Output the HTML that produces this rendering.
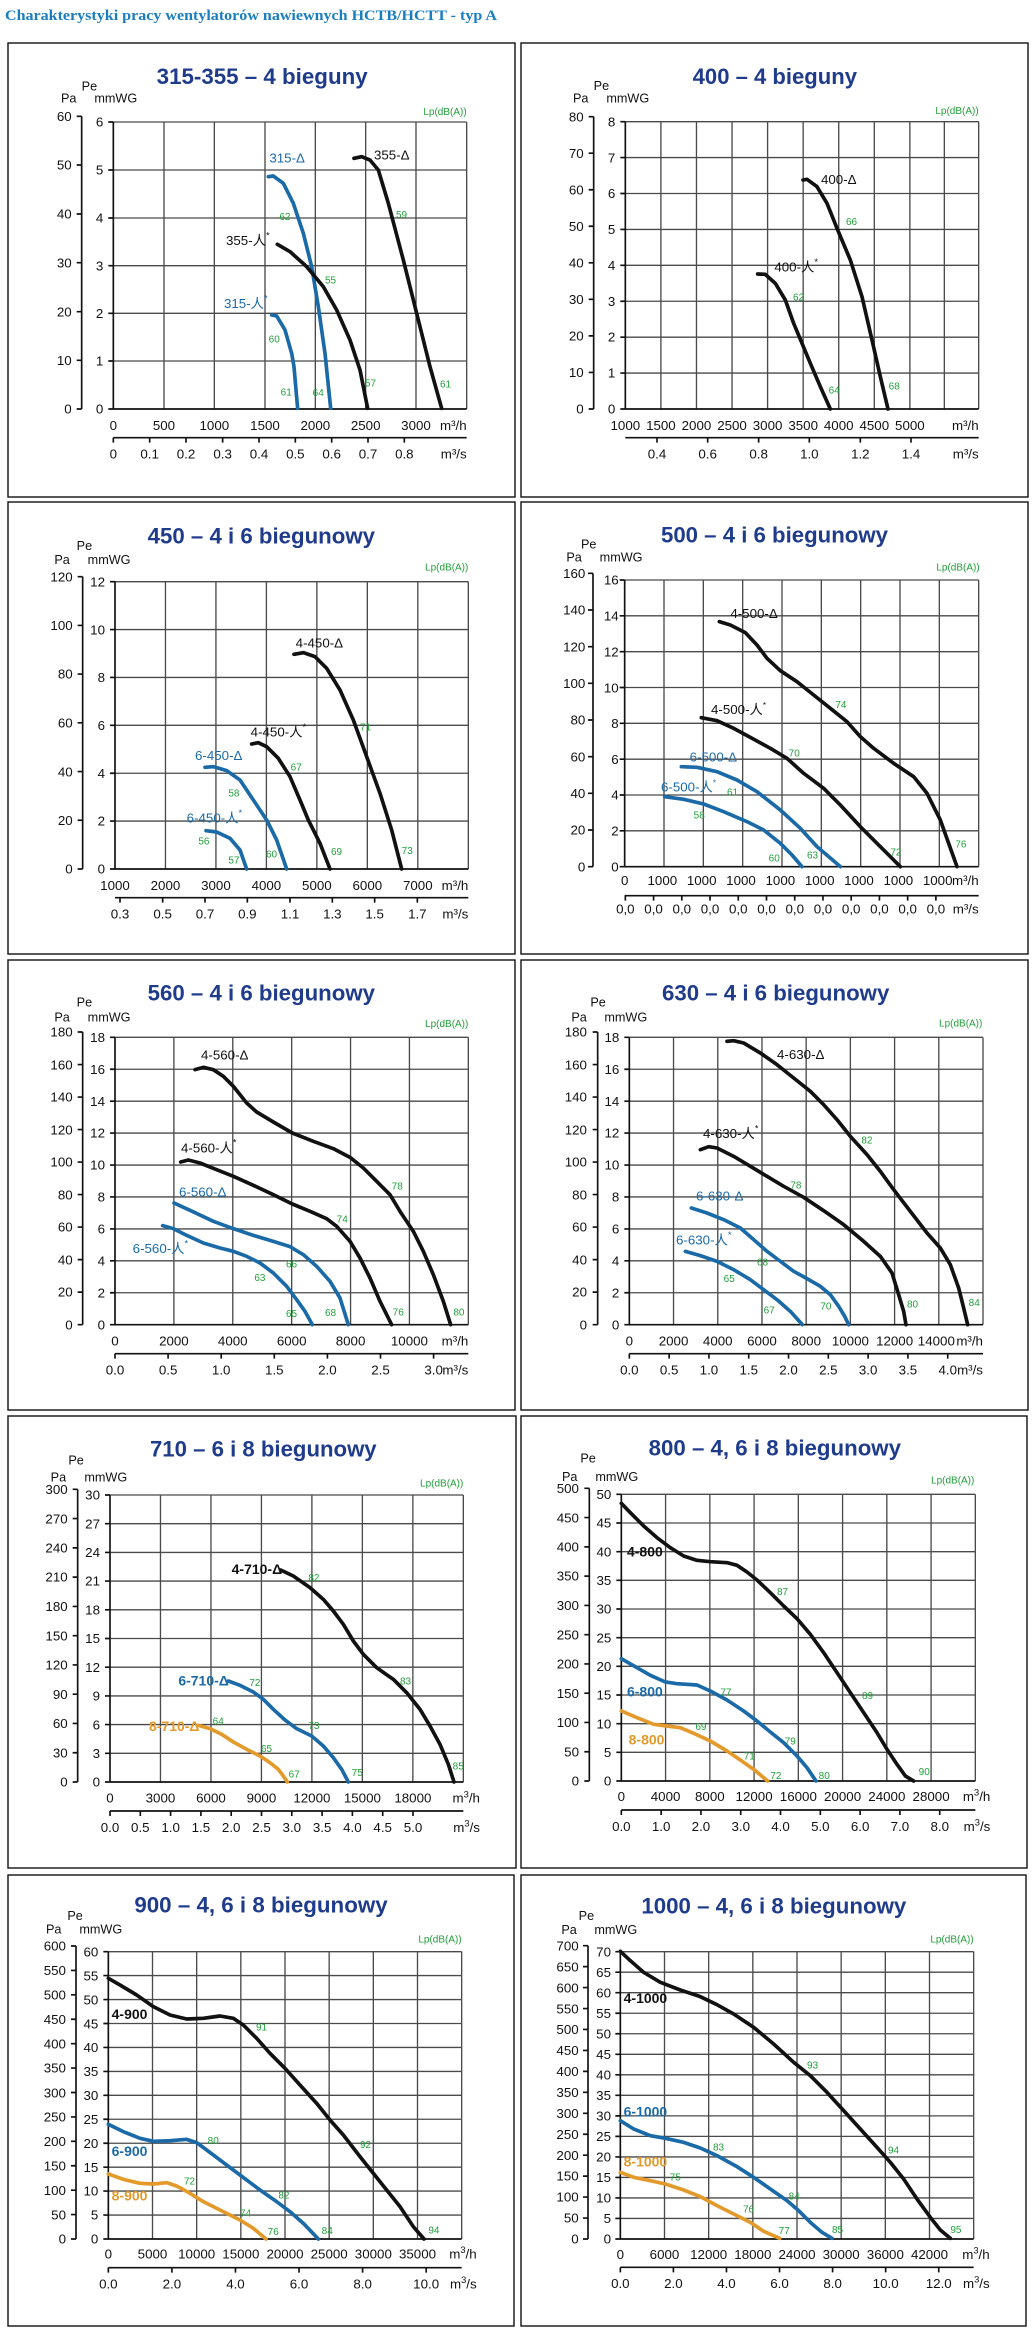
<!DOCTYPE html>
<html><head><meta charset="utf-8"><style>
html,body{margin:0;padding:0;background:#fff;}
svg{display:block;font-family:"Liberation Sans","Noto Sans CJK SC",sans-serif;}
.g{stroke:#4a4a4a;stroke-width:4;fill:none}
.ax{stroke:#111;stroke-width:5;fill:none}
.tl{font-size:40px;text-anchor:end;fill:#111}
.tc{font-size:40px;text-anchor:middle;fill:#111}
.te{font-size:40px;text-anchor:end;fill:#111}
.un{font-size:40px;fill:#111}
.gr{font-size:30px;fill:#22a03a}
.lp{font-size:30px;fill:#22a03a;text-anchor:end}
.hd{font-size:38px;fill:#111}
.ti{font-size:66px;font-weight:bold;fill:#1f3b8c}
.cb{stroke:#111;stroke-width:11;fill:none;stroke-linejoin:round;stroke-linecap:round}
.cu{stroke:#1b6aa8;stroke-width:11;fill:none;stroke-linejoin:round;stroke-linecap:round}
.co{stroke:#e39a2a;stroke-width:11;fill:none;stroke-linejoin:round;stroke-linecap:round}
.lb{font-size:40px;fill:#111}
.lu{font-size:40px;fill:#1b6aa8}
.bb{font-size:42px;font-weight:bold;fill:#111}
.bu{font-size:42px;font-weight:bold;fill:#1b6aa8}
.bo{font-size:42px;font-weight:bold;fill:#e39a2a}
.box{fill:none;stroke:#111;stroke-width:1.4}
</style></head><body>
<svg width="1034" height="2334" viewBox="0 0 1034 2334" xmlns="http://www.w3.org/2000/svg">
<rect width="1034" height="2334" fill="#fff"/>
<text x="5" y="20" font-family="Liberation Serif,serif" font-weight="bold" font-size="15" fill="#1a7dbf" textLength="492" lengthAdjust="spacingAndGlyphs">Charakterystyki pracy wentylatorów nawiewnych HCTB/HCTT - typ A</text>

<rect class="box" x="8" y="43" width="507" height="454"/>
<rect class="box" x="521" y="43" width="507" height="454"/>
<rect class="box" x="8" y="502" width="507" height="452"/>
<rect class="box" x="521" y="502" width="507" height="452"/>
<rect class="box" x="8" y="960" width="507" height="450"/>
<rect class="box" x="521" y="960" width="507" height="450"/>
<rect class="box" x="8" y="1416" width="508" height="452"/>
<rect class="box" x="521" y="1416" width="506" height="452"/>
<rect class="box" x="8" y="1875" width="506" height="451"/>
<rect class="box" x="521" y="1875" width="505" height="451"/>

<!-- P1 315-355 -->
<g transform="translate(0,0) scale(0.33333)">
<text class="ti" x="470" y="252" textLength="633" lengthAdjust="spacingAndGlyphs">315-355 – 4 bieguny</text>
<text class="hd" x="245" y="272">Pe</text><text class="hd" x="183" y="308">Pa</text><text class="hd" x="283" y="308">mmWG</text>
<text class="lp" x="1400" y="345">Lp(dB(A))</text>
<path class="g" d="M340 366H1400M340 510H1400M340 654H1400M340 797H1400M340 940H1400M340 1083H1400M492 366V1227M643 366V1227M795 366V1227M946 366V1227M1097 366V1227M1248 366V1227M1400 366V1227"/>
<path class="ax" d="M340 366V1227H1400M325 366H340M325 510H340M325 654H340M325 797H340M325 940H340M325 1083H340M325 1227H340M245 349V1227M230 349H245M230 495H245M230 642H245M230 788H245M230 935H245M230 1081H245M230 1227H245M340 1313H1400M340 1313V1328M449 1313V1328M558 1313V1328M668 1313V1328M777 1313V1328M886 1313V1328M995 1313V1328M1104 1313V1328M1213 1313V1328"/>
<text class="tl" x="310" y="380">6</text><text class="tl" x="310" y="524">5</text><text class="tl" x="310" y="668">4</text><text class="tl" x="310" y="811">3</text><text class="tl" x="310" y="954">2</text><text class="tl" x="310" y="1097">1</text><text class="tl" x="310" y="1241">0</text>
<text class="tl" x="215" y="363">60</text><text class="tl" x="215" y="509">50</text><text class="tl" x="215" y="656">40</text><text class="tl" x="215" y="802">30</text><text class="tl" x="215" y="949">20</text><text class="tl" x="215" y="1095">10</text><text class="tl" x="215" y="1241">0</text>
<text class="tc" x="340" y="1290">0</text><text class="tc" x="492" y="1290">500</text><text class="tc" x="643" y="1290">1000</text><text class="tc" x="795" y="1290">1500</text><text class="tc" x="946" y="1290">2000</text><text class="tc" x="1097" y="1290">2500</text><text class="tc" x="1248" y="1290">3000</text><text class="te" x="1400" y="1290">m³/h</text>
<text class="tc" x="340" y="1375">0</text><text class="tc" x="449" y="1375">0.1</text><text class="tc" x="558" y="1375">0.2</text><text class="tc" x="668" y="1375">0.3</text><text class="tc" x="777" y="1375">0.4</text><text class="tc" x="886" y="1375">0.5</text><text class="tc" x="995" y="1375">0.6</text><text class="tc" x="1104" y="1375">0.7</text><text class="tc" x="1213" y="1375">0.8</text><text class="te" x="1400" y="1375">m³/s</text>
<polyline class="cu" points="805,530 820,528 850,550 880,610 910,700 935,800 955,920 975,1060 992,1225"/>
<polyline class="cu" points="815,945 830,948 855,990 875,1060 882,1100 888,1170 893,1225"/>
<polyline class="cb" points="832,733 870,755 920,800 970,860 1010,930 1050,1020 1080,1110 1103,1225"/>
<polyline class="cb" points="1062,475 1085,470 1110,480 1135,510 1165,610 1210,780 1250,940 1290,1100 1325,1225"/>
<text class="lu" x="808" y="487">315-Δ</text><text class="lb" x="1122" y="478">355-Δ</text><text class="lb" x="678" y="735">355-人<tspan font-size="28" dy="-20">*</tspan></text><text class="lu" x="672" y="924">315-人<tspan font-size="28" dy="-20">*</tspan></text>
<text class="gr" x="838" y="660">62</text><text class="gr" x="975" y="850">55</text><text class="gr" x="1188" y="654">59</text><text class="gr" x="806" y="1027">60</text><text class="gr" x="842" y="1187">61</text><text class="gr" x="938" y="1188">64</text><text class="gr" x="1095" y="1160">57</text><text class="gr" x="1320" y="1162">61</text>
</g>

<!-- P2 400 -->
<g transform="translate(517,40) scale(0.33333)">
<text class="ti" x="527" y="132" textLength="493" lengthAdjust="spacingAndGlyphs">400 – 4 bieguny</text>
<text class="hd" x="230" y="150">Pe</text><text class="hd" x="168" y="188">Pa</text><text class="hd" x="268" y="188">mmWG</text>
<text class="lp" x="1385" y="222">Lp(dB(A))</text>
<path class="g" d="M325 245H1385M325 352.75H1385M325 460.5H1385M325 568.25H1385M325 676H1385M325 783.75H1385M325 891.5H1385M325 999.25H1385M431.7 245V1107M538.4 245V1107M645.1 245V1107M751.8 245V1107M858.5 245V1107M965.2 245V1107M1071.9 245V1107M1178.6 245V1107M1282 245V1107M1385 245V1107"/>
<path class="ax" d="M325 245V1107H1385M310 245H325M310 352.75H325M310 460.5H325M310 568.25H325M310 676H325M310 783.75H325M310 891.5H325M310 999.25H325M310 1107H325M230 230V1107M215 230H230M215 339.6H230M215 449.2H230M215 558.8H230M215 668.4H230M215 778H230M215 887.6H230M215 997.2H230M215 1107H230M325 1193H1385M420 1193V1208M572 1193V1208M725 1193V1208M877 1193V1208M1030 1193V1208M1182 1193V1208"/>
<text class="tl" x="295" y="259">8</text><text class="tl" x="295" y="367">7</text><text class="tl" x="295" y="474">6</text><text class="tl" x="295" y="582">5</text><text class="tl" x="295" y="690">4</text><text class="tl" x="295" y="798">3</text><text class="tl" x="295" y="905">2</text><text class="tl" x="295" y="1013">1</text><text class="tl" x="295" y="1121">0</text>
<text class="tl" x="200" y="244">80</text><text class="tl" x="200" y="354">70</text><text class="tl" x="200" y="463">60</text><text class="tl" x="200" y="573">50</text><text class="tl" x="200" y="682">40</text><text class="tl" x="200" y="792">30</text><text class="tl" x="200" y="902">20</text><text class="tl" x="200" y="1011">10</text><text class="tl" x="200" y="1121">0</text>
<text class="tc" x="325" y="1170">1000</text><text class="tc" x="431.7" y="1170">1500</text><text class="tc" x="538.4" y="1170">2000</text><text class="tc" x="645.1" y="1170">2500</text><text class="tc" x="751.8" y="1170">3000</text><text class="tc" x="858.5" y="1170">3500</text><text class="tc" x="965.2" y="1170">4000</text><text class="tc" x="1071.9" y="1170">4500</text><text class="tc" x="1178.6" y="1170">5000</text><text class="te" x="1385" y="1170">m³/h</text>
<text class="tc" x="420" y="1255">0.4</text><text class="tc" x="572" y="1255">0.6</text><text class="tc" x="725" y="1255">0.8</text><text class="tc" x="877" y="1255">1.0</text><text class="tc" x="1030" y="1255">1.2</text><text class="tc" x="1182" y="1255">1.4</text><text class="te" x="1385" y="1255">m³/s</text>
<polyline class="cb" points="858,420 870,418 900,440 930,490 960,565 1000,660 1035,770 1065,900 1090,1010 1113,1107"/>
<polyline class="cb" points="722,702 745,703 775,730 805,780 830,850 855,910 880,970 910,1040 940,1107"/>
<text class="lb" x="912" y="432">400-Δ</text><text class="lb" x="772" y="695">400-人<tspan font-size="28" dy="-20">*</tspan></text>
<text class="gr" x="987" y="555">66</text><text class="gr" x="828" y="782">62</text><text class="gr" x="935" y="1060">64</text><text class="gr" x="1115" y="1048">68</text>
</g>

<!-- P3 450 -->
<g transform="translate(0,500) scale(0.33333)">
<text class="ti" x="443" y="130" textLength="682" lengthAdjust="spacingAndGlyphs">450 – 4 i 6 biegunowy</text>
<text class="hd" x="230" y="150">Pe</text><text class="hd" x="163" y="192">Pa</text><text class="hd" x="263" y="192">mmWG</text>
<text class="lp" x="1405" y="212">Lp(dB(A))</text>
<path class="g" d="M345 245H1405M345 388.7H1405M345 532.3H1405M345 676H1405M345 819.7H1405M345 963.3H1405M496.4 245V1107M647.8 245V1107M799.2 245V1107M950.6 245V1107M1102 245V1107M1253.4 245V1107M1405 245V1107"/>
<path class="ax" d="M345 245V1107H1405M330 245H345M330 388.7H345M330 532.3H345M330 676H345M330 819.7H345M330 963.3H345M330 1107H345M248 230V1107M233 230H248M233 376.2H248M233 522.3H248M233 668.5H248M233 814.7H248M233 960.8H248M233 1107H248M345 1193H1405M360 1193V1208M488 1193V1208M615 1193V1208M742 1193V1208M870 1193V1208M997 1193V1208M1124 1193V1208M1252 1193V1208"/>
<text class="tl" x="315" y="259">12</text><text class="tl" x="315" y="403">10</text><text class="tl" x="315" y="546">8</text><text class="tl" x="315" y="690">6</text><text class="tl" x="315" y="834">4</text><text class="tl" x="315" y="977">2</text><text class="tl" x="315" y="1121">0</text>
<text class="tl" x="218" y="244">120</text><text class="tl" x="218" y="390">100</text><text class="tl" x="218" y="536">80</text><text class="tl" x="218" y="682">60</text><text class="tl" x="218" y="829">40</text><text class="tl" x="218" y="975">20</text><text class="tl" x="218" y="1121">0</text>
<text class="tc" x="345" y="1170">1000</text><text class="tc" x="496.4" y="1170">2000</text><text class="tc" x="647.8" y="1170">3000</text><text class="tc" x="799.2" y="1170">4000</text><text class="tc" x="950.6" y="1170">5000</text><text class="tc" x="1102" y="1170">6000</text><text class="tc" x="1253.4" y="1170">7000</text><text class="te" x="1405" y="1170">m³/h</text>
<text class="tc" x="360" y="1255">0.3</text><text class="tc" x="488" y="1255">0.5</text><text class="tc" x="615" y="1255">0.7</text><text class="tc" x="742" y="1255">0.9</text><text class="tc" x="870" y="1255">1.1</text><text class="tc" x="997" y="1255">1.3</text><text class="tc" x="1124" y="1255">1.5</text><text class="tc" x="1252" y="1255">1.7</text><text class="te" x="1405" y="1255">m³/s</text>
<polyline class="cb" points="882,463 910,458 945,470 980,505 1020,570 1060,660 1100,770 1140,880 1175,990 1205,1107"/>
<polyline class="cb" points="755,732 775,728 800,740 835,775 870,830 900,900 925,960 960,1030 990,1107"/>
<polyline class="cu" points="615,802 640,800 680,812 720,840 760,900 800,960 830,1020 860,1107"/>
<polyline class="cu" points="618,992 650,996 690,1015 720,1050 740,1107"/>
<text class="lb" x="887" y="443">4-450-Δ</text><text class="lb" x="752" y="710">4-450-人<tspan font-size="28" dy="-20">*</tspan></text><text class="lu" x="585" y="780">6-450-Δ</text><text class="lu" x="560" y="968">6-450-人<tspan font-size="28" dy="-20">*</tspan></text>
<text class="gr" x="1080" y="692">71</text><text class="gr" x="872" y="812">67</text><text class="gr" x="685" y="890">58</text><text class="gr" x="798" y="1072">60</text><text class="gr" x="595" y="1034">56</text><text class="gr" x="685" y="1090">57</text><text class="gr" x="993" y="1065">69</text><text class="gr" x="1205" y="1062">73</text>
</g>

<!-- P4 500 -->
<g transform="translate(517,500) scale(0.33333)">
<text class="ti" x="432" y="127" textLength="681" lengthAdjust="spacingAndGlyphs">500 – 4 i 6 biegunowy</text>
<text class="hd" x="192" y="145">Pe</text><text class="hd" x="148" y="185">Pa</text><text class="hd" x="248" y="185">mmWG</text>
<text class="lp" x="1388" y="212">Lp(dB(A))</text>
<path class="g" d="M323 240H1385M323 347.5H1385M323 455H1385M323 562.5H1385M323 670H1385M323 777.5H1385M323 885H1385M323 992.5H1385M441 240V1100M559 240V1100M677 240V1100M795 240V1100M913 240V1100M1031 240V1100M1149 240V1100M1267 240V1100M1385 240V1100"/>
<path class="ax" d="M323 240V1100H1385M308 240H323M308 347.5H323M308 455H323M308 562.5H323M308 670H323M308 777.5H323M308 885H323M308 992.5H323M308 1100H323M228 220V1100M213 220H228M213 330H228M213 440H228M213 550H228M213 660H228M213 770H228M213 880H228M213 990H228M213 1100H228M323 1187H1385M325 1187V1202M409.7 1187V1202M494.4 1187V1202M579.1 1187V1202M663.8 1187V1202M748.5 1187V1202M833.2 1187V1202M917.9 1187V1202M1002.6 1187V1202M1087.3 1187V1202M1172 1187V1202M1256.7 1187V1202"/>
<text class="tl" x="305" y="254">16</text><text class="tl" x="305" y="362">14</text><text class="tl" x="305" y="469">12</text><text class="tl" x="305" y="577">10</text><text class="tl" x="305" y="684">8</text><text class="tl" x="305" y="792">6</text><text class="tl" x="305" y="899">4</text><text class="tl" x="305" y="1007">2</text><text class="tl" x="305" y="1114">0</text>
<text class="tl" x="205" y="234">160</text><text class="tl" x="205" y="344">140</text><text class="tl" x="205" y="454">120</text><text class="tl" x="205" y="564">100</text><text class="tl" x="205" y="674">80</text><text class="tl" x="205" y="784">60</text><text class="tl" x="205" y="894">40</text><text class="tl" x="205" y="1004">20</text><text class="tl" x="205" y="1114">0</text>
<text class="tc" x="323" y="1155">0</text><text class="tc" x="436" y="1155">1000</text><text class="tc" x="554" y="1155">1000</text><text class="tc" x="672" y="1155">1000</text><text class="tc" x="790" y="1155">1000</text><text class="tc" x="908" y="1155">1000</text><text class="tc" x="1026" y="1155">1000</text><text class="tc" x="1144" y="1155">1000</text><text class="tc" x="1262" y="1155">1000</text><text class="te" x="1385" y="1155">m³/h</text>
<text class="tc" x="325" y="1240">0,0</text><text class="tc" x="409.7" y="1240">0,0</text><text class="tc" x="494.4" y="1240">0,0</text><text class="tc" x="579.1" y="1240">0,0</text><text class="tc" x="663.8" y="1240">0,0</text><text class="tc" x="748.5" y="1240">0,0</text><text class="tc" x="833.2" y="1240">0,0</text><text class="tc" x="917.9" y="1240">0,0</text><text class="tc" x="1002.6" y="1240">0,0</text><text class="tc" x="1087.3" y="1240">0,0</text><text class="tc" x="1172" y="1240">0,0</text><text class="tc" x="1256.7" y="1240">0,0</text><text class="te" x="1385" y="1240">m³/s</text>
<polyline class="cb" points="607,365 640,375 685,398 720,435 750,475 790,512 840,545 890,585 940,625 990,665 1030,710 1070,745 1130,790 1190,830 1230,880 1270,960 1295,1030 1320,1100"/>
<polyline class="cb" points="553,653 600,662 650,685 700,712 760,745 810,775 860,820 920,865 970,915 1030,980 1090,1040 1150,1100"/>
<polyline class="cu" points="493,800 540,802 600,815 660,840 720,875 790,930 850,985 900,1040 935,1070 970,1100"/>
<polyline class="cu" points="443,890 500,898 560,912 620,935 690,965 740,990 790,1030 825,1065 855,1100"/>
<text class="lb" x="640" y="354" font-size="33">4-500-Δ</text><text class="lb" x="582" y="642" font-size="33">4-500-人<tspan font-size="24" dy="-18">*</tspan></text><text class="lu" x="518" y="784" font-size="33">6-500-Δ</text><text class="lu" x="432" y="874" font-size="33">6-500-人<tspan font-size="24" dy="-18">*</tspan></text>
<text class="gr" x="955" y="624">74</text><text class="gr" x="815" y="770">70</text><text class="gr" x="630" y="887">61</text><text class="gr" x="530" y="955">58</text><text class="gr" x="755" y="1085">60</text><text class="gr" x="870" y="1075">63</text><text class="gr" x="1120" y="1067">72</text><text class="gr" x="1315" y="1042">76</text>
</g>

<!-- P5 560 -->
<g transform="translate(0,958) scale(0.33333)">
<text class="ti" x="443" y="127" textLength="682" lengthAdjust="spacingAndGlyphs">560 – 4 i 6 biegunowy</text>
<text class="hd" x="230" y="145">Pe</text><text class="hd" x="163" y="190">Pa</text><text class="hd" x="263" y="190">mmWG</text>
<text class="lp" x="1405" y="207">Lp(dB(A))</text>
<path class="g" d="M345 238H1405M345 333.8H1405M345 429.6H1405M345 525.3H1405M345 621.1H1405M345 716.9H1405M345 812.7H1405M345 908.4H1405M345 1004.2H1405M521.7 238V1100M698.3 238V1100M875 238V1100M1051.7 238V1100M1228.3 238V1100M1405 238V1100"/>
<path class="ax" d="M345 238V1100H1405M330 238H345M330 333.8H345M330 429.6H345M330 525.3H345M330 621.1H345M330 716.9H345M330 812.7H345M330 908.4H345M330 1004.2H345M330 1100H345M248 222V1100M233 222H248M233 319.6H248M233 417.1H248M233 514.7H248M233 612.2H248M233 709.8H248M233 807.3H248M233 904.9H248M233 1002.4H248M233 1100H248M345 1187H1405M345 1187V1202M504.3 1187V1202M663.6 1187V1202M822.9 1187V1202M982.2 1187V1202M1141.5 1187V1202M1300.8 1187V1202"/>
<text class="tl" x="315" y="252">18</text><text class="tl" x="315" y="348">16</text><text class="tl" x="315" y="444">14</text><text class="tl" x="315" y="539">12</text><text class="tl" x="315" y="635">10</text><text class="tl" x="315" y="731">8</text><text class="tl" x="315" y="827">6</text><text class="tl" x="315" y="922">4</text><text class="tl" x="315" y="1018">2</text><text class="tl" x="315" y="1114">0</text>
<text class="tl" x="218" y="236">180</text><text class="tl" x="218" y="334">160</text><text class="tl" x="218" y="431">140</text><text class="tl" x="218" y="529">120</text><text class="tl" x="218" y="626">100</text><text class="tl" x="218" y="724">80</text><text class="tl" x="218" y="821">60</text><text class="tl" x="218" y="919">40</text><text class="tl" x="218" y="1016">20</text><text class="tl" x="218" y="1114">0</text>
<text class="tc" x="345" y="1163">0</text><text class="tc" x="521.7" y="1163">2000</text><text class="tc" x="698.3" y="1163">4000</text><text class="tc" x="875" y="1163">6000</text><text class="tc" x="1051.7" y="1163">8000</text><text class="tc" x="1228.3" y="1163">10000</text><text class="te" x="1405" y="1163">m³/h</text>
<text class="tc" x="345" y="1250">0.0</text><text class="tc" x="504.3" y="1250">0.5</text><text class="tc" x="663.6" y="1250">1.0</text><text class="tc" x="822.9" y="1250">1.5</text><text class="tc" x="982.2" y="1250">2.0</text><text class="tc" x="1141.5" y="1250">2.5</text><text class="tc" x="1300.8" y="1250">3.0</text><text class="te" x="1405" y="1250">m³/s</text>
<polyline class="cb" points="585,335 610,328 640,335 670,355 700,385 720,410 740,435 770,462 820,492 877,525 940,550 1000,572 1050,598 1090,630 1130,670 1170,710 1200,760 1240,820 1270,880 1300,950 1330,1030 1352,1100"/>
<polyline class="cb" points="542,612 565,606 600,615 650,635 700,655 760,682 820,710 877,738 930,760 980,782 1010,805 1050,850 1080,900 1110,960 1140,1030 1175,1100"/>
<polyline class="cu" points="522,735 570,757 640,790 700,812 760,832 820,850 870,866 910,890 950,925 990,970 1020,1020 1045,1100"/>
<polyline class="cu" points="488,803 520,812 560,832 610,855 660,870 700,880 740,895 780,915 820,945 860,985 890,1025 915,1060 937,1100"/>
<text class="lb" x="603" y="305">4-560-Δ</text><text class="lb" x="543" y="583">4-560-人<tspan font-size="28" dy="-20">*</tspan></text><text class="lu" x="537" y="715">6-560-Δ</text><text class="lu" x="398" y="885">6-560-人<tspan font-size="28" dy="-20">*</tspan></text>
<text class="gr" x="1175" y="695">78</text><text class="gr" x="1010" y="794">74</text><text class="gr" x="858" y="929">66</text><text class="gr" x="763" y="969">63</text><text class="gr" x="858" y="1077">65</text><text class="gr" x="975" y="1074">68</text><text class="gr" x="1178" y="1072">76</text><text class="gr" x="1360" y="1073">80</text>
</g>

<!-- P6 630 -->
<g transform="translate(517,958) scale(0.33333)">
<text class="ti" x="435" y="127" textLength="682" lengthAdjust="spacingAndGlyphs">630 – 4 i 6 biegunowy</text>
<text class="hd" x="220" y="145">Pe</text><text class="hd" x="163" y="190">Pa</text><text class="hd" x="262" y="190">mmWG</text>
<text class="lp" x="1396" y="205">Lp(dB(A))</text>
<path class="g" d="M337 238H1398M337 333.8H1398M337 429.6H1398M337 525.3H1398M337 621.1H1398M337 716.9H1398M337 812.7H1398M337 908.4H1398M337 1004.2H1398M469.6 238V1100M602.3 238V1100M734.9 238V1100M867.5 238V1100M1000.1 238V1100M1132.8 238V1100M1265.4 238V1100M1398 238V1100"/>
<path class="ax" d="M337 238V1100H1398M322 238H337M322 333.8H337M322 429.6H337M322 525.3H337M322 621.1H337M322 716.9H337M322 812.7H337M322 908.4H337M322 1004.2H337M322 1100H337M242 222V1100M227 222H242M227 319.6H242M227 417.1H242M227 514.7H242M227 612.2H242M227 709.8H242M227 807.3H242M227 904.9H242M227 1002.4H242M227 1100H242M337 1187H1398M337 1187V1202M456.4 1187V1202M575.8 1187V1202M695.2 1187V1202M814.6 1187V1202M934 1187V1202M1053.4 1187V1202M1172.8 1187V1202M1292.2 1187V1202"/>
<text class="tl" x="307" y="252">18</text><text class="tl" x="307" y="348">16</text><text class="tl" x="307" y="444">14</text><text class="tl" x="307" y="539">12</text><text class="tl" x="307" y="635">10</text><text class="tl" x="307" y="731">8</text><text class="tl" x="307" y="827">6</text><text class="tl" x="307" y="922">4</text><text class="tl" x="307" y="1018">2</text><text class="tl" x="307" y="1114">0</text>
<text class="tl" x="210" y="236">180</text><text class="tl" x="210" y="334">160</text><text class="tl" x="210" y="431">140</text><text class="tl" x="210" y="529">120</text><text class="tl" x="210" y="626">100</text><text class="tl" x="210" y="724">80</text><text class="tl" x="210" y="821">60</text><text class="tl" x="210" y="919">40</text><text class="tl" x="210" y="1016">20</text><text class="tl" x="210" y="1114">0</text>
<text class="tc" x="337" y="1163">0</text><text class="tc" x="469.6" y="1163">2000</text><text class="tc" x="602.3" y="1163">4000</text><text class="tc" x="734.9" y="1163">6000</text><text class="tc" x="867.5" y="1163">8000</text><text class="tc" x="1000.1" y="1163">10000</text><text class="tc" x="1132.8" y="1163">12000</text><text class="tc" x="1258" y="1163">14000</text><text class="te" x="1398" y="1163">m³/h</text>
<text class="tc" x="337" y="1250">0.0</text><text class="tc" x="456.4" y="1250">0.5</text><text class="tc" x="575.8" y="1250">1.0</text><text class="tc" x="695.2" y="1250">1.5</text><text class="tc" x="814.6" y="1250">2.0</text><text class="tc" x="934" y="1250">2.5</text><text class="tc" x="1053.4" y="1250">3.0</text><text class="tc" x="1172.8" y="1250">3.5</text><text class="tc" x="1292.2" y="1250">4.0</text><text class="te" x="1398" y="1250">m³/s</text>
<polyline class="cb" points="630,250 650,248 680,255 730,285 780,320 830,360 880,400 920,440 960,485 1000,535 1050,590 1090,640 1130,695 1180,760 1230,825 1270,870 1300,920 1325,990 1340,1050 1352,1100"/>
<polyline class="cb" points="550,575 575,566 600,570 650,595 700,625 750,655 800,685 860,718 920,758 980,800 1040,850 1090,895 1125,945 1145,1010 1160,1060 1167,1100"/>
<polyline class="cu" points="523,750 570,765 620,785 670,810 710,845 750,880 790,910 830,940 870,962 910,985 940,1010 965,1045 983,1075 995,1100"/>
<polyline class="cu" points="505,880 550,893 600,910 650,935 700,965 740,995 780,1025 820,1060 856,1100"/>
<text class="lb" x="780" y="303">4-630-Δ</text><text class="lb" x="558" y="540">4-630-人<tspan font-size="28" dy="-20">*</tspan></text><text class="lu" x="537" y="727">6-630-Δ</text><text class="lu" x="477" y="860">6-630-人<tspan font-size="28" dy="-20">*</tspan></text>
<text class="gr" x="1033" y="557">82</text><text class="gr" x="820" y="692">78</text><text class="gr" x="720" y="922">68</text><text class="gr" x="620" y="972">65</text><text class="gr" x="740" y="1067">67</text><text class="gr" x="910" y="1054">70</text><text class="gr" x="1170" y="1049">80</text><text class="gr" x="1355" y="1044">84</text>
</g>

<!-- P7 710 -->
<g transform="translate(0,1416) scale(0.33333)">
<text class="ti" x="450" y="122" textLength="680" lengthAdjust="spacingAndGlyphs">710 – 6 i 8 biegunowy</text>
<text class="hd" x="205" y="145">Pe</text><text class="hd" x="152" y="197">Pa</text><text class="hd" x="253" y="197">mmWG</text>
<text class="lp" x="1390" y="212">Lp(dB(A))</text>
<path class="g" d="M330 237H1390M330 323.1H1390M330 409.2H1390M330 495.3H1390M330 581.4H1390M330 667.5H1390M330 753.6H1390M330 839.7H1390M330 925.8H1390M330 1011.9H1390M481.4 237V1098M632.9 237V1098M784.3 237V1098M935.7 237V1098M1087.1 237V1098M1238.6 237V1098M1390 237V1098"/>
<path class="ax" d="M330 237V1098H1390M315 237H330M315 323.1H330M315 409.2H330M315 495.3H330M315 581.4H330M315 667.5H330M315 753.6H330M315 839.7H330M315 925.8H330M315 1011.9H330M315 1098H330M233 220V1098M218 220H233M218 307.8H233M218 395.6H233M218 483.4H233M218 571.2H233M218 659H233M218 746.8H233M218 834.6H233M218 922.4H233M218 1010.2H233M218 1098H233M330 1185H1390M330 1185V1200M420.9 1185V1200M511.8 1185V1200M602.7 1185V1200M693.6 1185V1200M784.5 1185V1200M875.4 1185V1200M966.3 1185V1200M1057.2 1185V1200M1148.1 1185V1200M1239 1185V1200"/>
<text class="tl" x="300" y="251">30</text><text class="tl" x="300" y="337">27</text><text class="tl" x="300" y="423">24</text><text class="tl" x="300" y="509">21</text><text class="tl" x="300" y="595">18</text><text class="tl" x="300" y="681">15</text><text class="tl" x="300" y="768">12</text><text class="tl" x="300" y="854">9</text><text class="tl" x="300" y="940">6</text><text class="tl" x="300" y="1026">3</text><text class="tl" x="300" y="1112">0</text>
<text class="tl" x="203" y="234">300</text><text class="tl" x="203" y="322">270</text><text class="tl" x="203" y="410">240</text><text class="tl" x="203" y="497">210</text><text class="tl" x="203" y="585">180</text><text class="tl" x="203" y="673">150</text><text class="tl" x="203" y="761">120</text><text class="tl" x="203" y="849">90</text><text class="tl" x="203" y="936">60</text><text class="tl" x="203" y="1024">30</text><text class="tl" x="203" y="1112">0</text>
<text class="tc" x="330" y="1160">0</text><text class="tc" x="481.4" y="1160">3000</text><text class="tc" x="632.9" y="1160">6000</text><text class="tc" x="784.3" y="1160">9000</text><text class="tc" x="935.7" y="1160">12000</text><text class="tc" x="1087.1" y="1160">15000</text><text class="tc" x="1238.6" y="1160">18000</text><text class="te" x="1440" y="1160">m<tspan font-size="28" dy="-16">3</tspan><tspan dy="16">/h</tspan></text>
<text class="tc" x="330" y="1248">0.0</text><text class="tc" x="420.9" y="1248">0.5</text><text class="tc" x="511.8" y="1248">1.0</text><text class="tc" x="602.7" y="1248">1.5</text><text class="tc" x="693.6" y="1248">2.0</text><text class="tc" x="784.5" y="1248">2.5</text><text class="tc" x="875.4" y="1248">3.0</text><text class="tc" x="966.3" y="1248">3.5</text><text class="tc" x="1057.2" y="1248">4.0</text><text class="tc" x="1148.1" y="1248">4.5</text><text class="tc" x="1239" y="1248">5.0</text><text class="te" x="1440" y="1248">m<tspan font-size="28" dy="-16">3</tspan><tspan dy="16">/s</tspan></text>
<polyline class="cb" points="842,462 880,480 930,515 970,550 1000,585 1030,625 1060,675 1090,715 1130,755 1180,790 1220,830 1260,880 1290,930 1320,985 1345,1045 1362,1098"/>
<polyline class="cu" points="685,795 720,808 760,828 790,850 820,880 855,912 890,938 935,960 970,990 1000,1025 1025,1060 1045,1098"/>
<polyline class="co" points="595,928 630,938 665,955 700,978 740,1000 780,1020 810,1040 835,1060 850,1080 862,1098"/>
<text class="bb" x="695" y="474">4-710-Δ</text><text class="bu" x="535" y="808">6-710-Δ</text><text class="bo" x="447" y="945">8-710-Δ</text>
<text class="gr" x="925" y="495">82</text><text class="gr" x="748" y="810">72</text><text class="gr" x="925" y="939">73</text><text class="gr" x="638" y="925">64</text><text class="gr" x="783" y="1008">65</text><text class="gr" x="866" y="1085">67</text><text class="gr" x="1055" y="1080">75</text><text class="gr" x="1200" y="805">83</text><text class="gr" x="1358" y="1060">85</text>
</g>

<!-- P8 800 -->
<g transform="translate(517,1416) scale(0.33333)">
<text class="ti" x="395" y="118" textLength="757" lengthAdjust="spacingAndGlyphs">800 – 4, 6 i 8 biegunowy</text>
<text class="hd" x="190" y="140">Pe</text><text class="hd" x="135" y="195">Pa</text><text class="hd" x="235" y="195">mmWG</text>
<text class="lp" x="1372" y="202">Lp(dB(A))</text>
<path class="g" d="M313 235H1375M313 321H1375M313 407H1375M313 493H1375M313 579H1375M313 665H1375M313 751H1375M313 837H1375M313 923H1375M313 1009H1375M445.75 235V1095M578.5 235V1095M711.25 235V1095M844 235V1095M976.75 235V1095M1109.5 235V1095M1242.25 235V1095M1375 235V1095"/>
<path class="ax" d="M313 235V1095H1375M298 235H313M298 321H313M298 407H313M298 493H313M298 579H313M298 665H313M298 751H313M298 837H313M298 923H313M298 1009H313M298 1095H313M217 217V1095M202 217H217M202 304.8H217M202 392.6H217M202 480.4H217M202 568.2H217M202 656H217M202 743.8H217M202 831.6H217M202 919.4H217M202 1007.2H217M202 1095H217M313 1182H1375M313 1182V1197M432.4 1182V1197M551.8 1182V1197M671.2 1182V1197M790.6 1182V1197M910 1182V1197M1029.4 1182V1197M1148.8 1182V1197M1268.2 1182V1197"/>
<text class="tl" x="283" y="249">50</text><text class="tl" x="283" y="335">45</text><text class="tl" x="283" y="421">40</text><text class="tl" x="283" y="507">35</text><text class="tl" x="283" y="593">30</text><text class="tl" x="283" y="679">25</text><text class="tl" x="283" y="765">20</text><text class="tl" x="283" y="851">15</text><text class="tl" x="283" y="937">10</text><text class="tl" x="283" y="1023">5</text><text class="tl" x="283" y="1109">0</text>
<text class="tl" x="186" y="231">500</text><text class="tl" x="186" y="319">450</text><text class="tl" x="186" y="407">400</text><text class="tl" x="186" y="494">350</text><text class="tl" x="186" y="582">300</text><text class="tl" x="186" y="670">250</text><text class="tl" x="186" y="758">200</text><text class="tl" x="186" y="846">150</text><text class="tl" x="186" y="933">100</text><text class="tl" x="186" y="1021">50</text><text class="tl" x="186" y="1109">0</text>
<text class="tc" x="313" y="1155">0</text><text class="tc" x="445.75" y="1155">4000</text><text class="tc" x="578.5" y="1155">8000</text><text class="tc" x="711.25" y="1155">12000</text><text class="tc" x="844" y="1155">16000</text><text class="tc" x="976.75" y="1155">20000</text><text class="tc" x="1109.5" y="1155">24000</text><text class="tc" x="1242.25" y="1155">28000</text><text class="te" x="1420" y="1155">m<tspan font-size="28" dy="-16">3</tspan><tspan dy="16">/h</tspan></text>
<text class="tc" x="313" y="1245">0.0</text><text class="tc" x="432.4" y="1245">1.0</text><text class="tc" x="551.8" y="1245">2.0</text><text class="tc" x="671.2" y="1245">3.0</text><text class="tc" x="790.6" y="1245">4.0</text><text class="tc" x="910" y="1245">5.0</text><text class="tc" x="1029.4" y="1245">6.0</text><text class="tc" x="1148.8" y="1245">7.0</text><text class="tc" x="1268.2" y="1245">8.0</text><text class="te" x="1420" y="1245">m<tspan font-size="28" dy="-16">3</tspan><tspan dy="16">/s</tspan></text>
<polyline class="cb" points="313,262 340,290 380,330 420,365 460,395 500,420 540,433 580,437 630,440 660,448 690,468 720,492 760,530 800,570 840,608 880,655 920,710 960,770 1000,830 1040,890 1080,950 1110,1000 1140,1045 1165,1080 1190,1095"/>
<polyline class="cu" points="313,728 360,755 400,778 445,798 480,803 540,807 580,825 630,852 680,885 720,915 760,948 800,980 840,1020 870,1055 897,1095"/>
<polyline class="co" points="313,885 360,905 410,925 450,930 490,935 530,952 580,975 630,1005 670,1032 710,1060 752,1095"/>
<text class="bb" x="330" y="422">4-800</text><text class="bu" x="330" y="842">6-800</text><text class="bo" x="335" y="985">8-800</text>
<text class="gr" x="780" y="537">87</text><text class="gr" x="1035" y="849">89</text><text class="gr" x="1205" y="1077">90</text><text class="gr" x="610" y="839">77</text><text class="gr" x="803" y="985">79</text><text class="gr" x="905" y="1089">80</text><text class="gr" x="535" y="942">69</text><text class="gr" x="680" y="1030">71</text><text class="gr" x="760" y="1089">72</text>
</g>

<!-- P9 900 -->
<g transform="translate(0,1900) scale(0.33333)">
<text class="ti" x="403" y="38" textLength="760" lengthAdjust="spacingAndGlyphs">900 – 4, 6 i 8 biegunowy</text>
<text class="hd" x="202" y="60">Pe</text><text class="hd" x="138" y="100">Pa</text><text class="hd" x="238" y="100">mmWG</text>
<text class="lp" x="1385" y="128">Lp(dB(A))</text>
<path class="g" d="M325 155H1385M325 226.8H1385M325 298.7H1385M325 370.5H1385M325 442.3H1385M325 514.2H1385M325 586H1385M325 657.8H1385M325 729.7H1385M325 801.5H1385M325 873.3H1385M325 945.2H1385M457.5 155V1017M590 155V1017M722.5 155V1017M855 155V1017M987.5 155V1017M1120 155V1017M1252.5 155V1017M1385 155V1017"/>
<path class="ax" d="M325 155V1017H1385M310 155H325M310 226.8H325M310 298.7H325M310 370.5H325M310 442.3H325M310 514.2H325M310 586H325M310 657.8H325M310 729.7H325M310 801.5H325M310 873.3H325M310 945.2H325M310 1017H325M228 138V1017M213 138H228M213 211.3H228M213 284.5H228M213 357.8H228M213 431H228M213 504.3H228M213 577.5H228M213 650.8H228M213 724H228M213 797.3H228M213 870.5H228M213 943.8H228M213 1017H228M325 1103H1385M325 1103V1118M515.7 1103V1118M706.4 1103V1118M897.1 1103V1118M1087.8 1103V1118M1278.5 1103V1118"/>
<text class="tl" x="295" y="169">60</text><text class="tl" x="295" y="241">55</text><text class="tl" x="295" y="313">50</text><text class="tl" x="295" y="385">45</text><text class="tl" x="295" y="456">40</text><text class="tl" x="295" y="528">35</text><text class="tl" x="295" y="600">30</text><text class="tl" x="295" y="672">25</text><text class="tl" x="295" y="744">20</text><text class="tl" x="295" y="816">15</text><text class="tl" x="295" y="887">10</text><text class="tl" x="295" y="959">5</text><text class="tl" x="295" y="1031">0</text>
<text class="tl" x="198" y="152">600</text><text class="tl" x="198" y="225">550</text><text class="tl" x="198" y="299">500</text><text class="tl" x="198" y="372">450</text><text class="tl" x="198" y="445">400</text><text class="tl" x="198" y="518">350</text><text class="tl" x="198" y="592">300</text><text class="tl" x="198" y="665">250</text><text class="tl" x="198" y="738">200</text><text class="tl" x="198" y="811">150</text><text class="tl" x="198" y="885">100</text><text class="tl" x="198" y="958">50</text><text class="tl" x="198" y="1031">0</text>
<text class="tc" x="325" y="1075">0</text><text class="tc" x="457.5" y="1075">5000</text><text class="tc" x="590" y="1075">10000</text><text class="tc" x="722.5" y="1075">15000</text><text class="tc" x="855" y="1075">20000</text><text class="tc" x="987.5" y="1075">25000</text><text class="tc" x="1120" y="1075">30000</text><text class="tc" x="1252.5" y="1075">35000</text><text class="te" x="1430" y="1075">m<tspan font-size="28" dy="-16">3</tspan><tspan dy="16">/h</tspan></text>
<text class="tc" x="325" y="1165">0.0</text><text class="tc" x="515.7" y="1165">2.0</text><text class="tc" x="706.4" y="1165">4.0</text><text class="tc" x="897.1" y="1165">6.0</text><text class="tc" x="1087.8" y="1165">8.0</text><text class="tc" x="1278.5" y="1165">10.0</text><text class="te" x="1430" y="1165">m<tspan font-size="28" dy="-16">3</tspan><tspan dy="16">/s</tspan></text>
<polyline class="cb" points="325,235 360,255 410,285 460,320 510,345 560,357 610,355 660,348 700,355 730,375 770,415 810,460 855,505 900,555 950,610 990,660 1030,705 1080,770 1120,820 1160,870 1200,920 1240,980 1272,1017"/>
<polyline class="cu" points="325,673 370,695 420,715 460,724 510,722 560,718 590,728 620,750 660,780 720,825 780,870 830,905 870,935 910,970 955,1017"/>
<polyline class="co" points="325,822 370,838 420,850 460,852 500,848 530,858 570,880 610,905 660,930 720,960 760,985 798,1017"/>
<text class="bb" x="335" y="357">4-900</text><text class="bu" x="335" y="768">6-900</text><text class="bo" x="335" y="902">8-900</text>
<text class="gr" x="768" y="392">91</text><text class="gr" x="1080" y="744">92</text><text class="gr" x="1285" y="1000">94</text><text class="gr" x="623" y="732">80</text><text class="gr" x="835" y="895">82</text><text class="gr" x="965" y="1002">84</text><text class="gr" x="552" y="854">72</text><text class="gr" x="720" y="950">74</text><text class="gr" x="803" y="1005">76</text>
</g>

<!-- P10 1000 -->
<g transform="translate(517,1874) scale(0.33333)">
<text class="ti" x="373" y="118" textLength="795" lengthAdjust="spacingAndGlyphs">1000 – 4, 6 i 8 biegunowy</text>
<text class="hd" x="185" y="138">Pe</text><text class="hd" x="133" y="180">Pa</text><text class="hd" x="232" y="180">mmWG</text>
<text class="lp" x="1370" y="205">Lp(dB(A))</text>
<path class="g" d="M310 233H1370M310 294.6H1370M310 356.1H1370M310 417.7H1370M310 479.3H1370M310 540.9H1370M310 602.4H1370M310 664H1370M310 725.6H1370M310 787.1H1370M310 848.7H1370M310 910.3H1370M310 971.9H1370M310 1033.4H1370M442.5 233V1095M575 233V1095M707.5 233V1095M840 233V1095M972.5 233V1095M1105 233V1095M1237.5 233V1095M1370 233V1095"/>
<path class="ax" d="M310 233V1095H1370M295 233H310M295 294.6H310M295 356.1H310M295 417.7H310M295 479.3H310M295 540.9H310M295 602.4H310M295 664H310M295 725.6H310M295 787.1H310M295 848.7H310M295 910.3H310M295 971.9H310M295 1033.4H310M295 1095H310M213 215V1095M198 215H213M198 277.9H213M198 340.7H213M198 403.6H213M198 466.4H213M198 529.3H213M198 592.1H213M198 655H213M198 717.9H213M198 780.7H213M198 843.6H213M198 906.4H213M198 969.3H213M198 1032.1H213M198 1095H213M310 1180H1370M310 1180V1195M469.2 1180V1195M628.4 1180V1195M787.6 1180V1195M946.8 1180V1195M1106 1180V1195M1265.2 1180V1195"/>
<text class="tl" x="282" y="247">70</text><text class="tl" x="282" y="309">65</text><text class="tl" x="282" y="370">60</text><text class="tl" x="282" y="432">55</text><text class="tl" x="282" y="493">50</text><text class="tl" x="282" y="555">45</text><text class="tl" x="282" y="616">40</text><text class="tl" x="282" y="678">35</text><text class="tl" x="282" y="740">30</text><text class="tl" x="282" y="801">25</text><text class="tl" x="282" y="863">20</text><text class="tl" x="282" y="924">15</text><text class="tl" x="282" y="986">10</text><text class="tl" x="282" y="1047">5</text><text class="tl" x="282" y="1109">0</text>
<text class="tl" x="185" y="229">700</text><text class="tl" x="185" y="292">650</text><text class="tl" x="185" y="355">600</text><text class="tl" x="185" y="418">550</text><text class="tl" x="185" y="480">500</text><text class="tl" x="185" y="543">450</text><text class="tl" x="185" y="606">400</text><text class="tl" x="185" y="669">350</text><text class="tl" x="185" y="732">300</text><text class="tl" x="185" y="795">250</text><text class="tl" x="185" y="858">200</text><text class="tl" x="185" y="920">150</text><text class="tl" x="185" y="983">100</text><text class="tl" x="185" y="1046">50</text><text class="tl" x="185" y="1109">0</text>
<text class="tc" x="310" y="1155">0</text><text class="tc" x="442.5" y="1155">6000</text><text class="tc" x="575" y="1155">12000</text><text class="tc" x="707.5" y="1155">18000</text><text class="tc" x="840" y="1155">24000</text><text class="tc" x="972.5" y="1155">30000</text><text class="tc" x="1105" y="1155">36000</text><text class="tc" x="1237.5" y="1155">42000</text><text class="te" x="1418" y="1155">m<tspan font-size="28" dy="-16">3</tspan><tspan dy="16">/h</tspan></text>
<text class="tc" x="310" y="1242">0.0</text><text class="tc" x="469.2" y="1242">2.0</text><text class="tc" x="628.4" y="1242">4.0</text><text class="tc" x="787.6" y="1242">6.0</text><text class="tc" x="946.8" y="1242">8.0</text><text class="tc" x="1106" y="1242">10.0</text><text class="tc" x="1265.2" y="1242">12.0</text><text class="te" x="1418" y="1242">m<tspan font-size="28" dy="-16">3</tspan><tspan dy="16">/s</tspan></text>
<polyline class="cb" points="310,232 340,260 380,295 430,325 490,348 550,368 600,392 650,420 710,460 770,510 830,565 880,605 930,655 980,710 1030,765 1080,820 1120,865 1160,915 1200,975 1240,1030 1270,1068 1300,1093"/>
<polyline class="cu" points="310,740 350,765 400,785 445,793 500,805 550,822 600,845 660,878 710,910 760,945 810,980 845,1010 880,1045 915,1075 945,1093"/>
<polyline class="co" points="310,895 350,910 400,920 445,930 500,948 550,968 600,995 650,1020 700,1045 740,1072 788,1093"/>
<text class="bb" x="320" y="387">4-1000</text><text class="bu" x="320" y="727">6-1000</text><text class="bo" x="320" y="877">8-1000</text>
<text class="gr" x="870" y="584">93</text><text class="gr" x="1113" y="839">94</text><text class="gr" x="1300" y="1077">95</text><text class="gr" x="588" y="830">83</text><text class="gr" x="815" y="977">84</text><text class="gr" x="945" y="1077">85</text><text class="gr" x="458" y="920">75</text><text class="gr" x="678" y="1015">76</text><text class="gr" x="785" y="1080">77</text>
</g>
</svg>
</body></html>
